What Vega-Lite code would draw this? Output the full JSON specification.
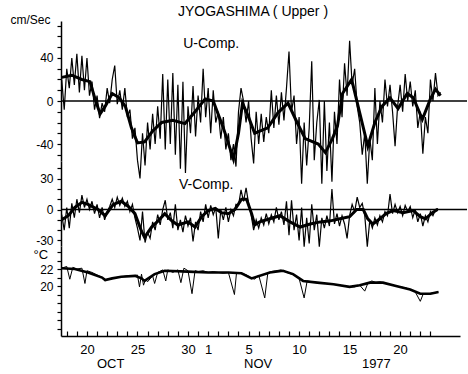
{
  "$schema": "https://vega.github.io/schema/vega-lite/v6.json",
  "background": "white",
  "padding": {"left": 10, "top": 5, "right": 0, "bottom": 3},
  "spacing": 0,
  "bounds": "flush",
  "resolve": {"scale": {"x": "independent"}},
  "config": {
    "view": {"stroke": null},
    "font": "Liberation Sans",
    "axis": {"grid": false, "domainColor": "black", "domainWidth": 1.5, "tickColor": "black", "tickWidth": 1.2, "labelColor": "black", "labelFont": "Liberation Sans", "labelFontSize": 12, "titleColor": "black", "titleFont": "Liberation Sans", "titleFontWeight": "normal", "labelOverlap": false, "labelFlush": false, "labelBound": false}
  },
  "datasets": {
    "U_raw": [
      {"d":17.5,"v":20},{"d":17.75,"v":-8},{"d":18,"v":30},{"d":18.25,"v":12},{"d":18.5,"v":40},{"d":18.75,"v":15},{"d":19,"v":44},{"d":19.25,"v":8},{"d":19.5,"v":42},{"d":19.75,"v":10},
      {"d":20,"v":40},{"d":20.25,"v":5},{"d":20.5,"v":18},{"d":20.75,"v":-8},{"d":21,"v":5},{"d":21.25,"v":-16},{"d":21.5,"v":-2},{"d":21.75,"v":-10},{"d":22,"v":12},{"d":22.25,"v":-2},
      {"d":22.5,"v":20},{"d":22.75,"v":33},{"d":23,"v":-3},{"d":23.25,"v":10},{"d":23.5,"v":-8},{"d":23.75,"v":12},{"d":24,"v":-15},{"d":24.25,"v":-8},{"d":24.5,"v":-35},{"d":24.75,"v":-25},
      {"d":25,"v":-55},{"d":25.25,"v":-72},{"d":25.5,"v":-30},{"d":25.75,"v":-60},{"d":26,"v":-20},{"d":26.25,"v":-45},{"d":26.5,"v":-12},{"d":26.75,"v":-40},{"d":27,"v":-5},{"d":27.25,"v":-35},
      {"d":27.5,"v":25},{"d":27.75,"v":-45},{"d":28,"v":20},{"d":28.25,"v":-40},{"d":28.5,"v":26},{"d":28.75,"v":-50},{"d":29,"v":15},{"d":29.25,"v":-63},{"d":29.5,"v":18},{"d":29.75,"v":-67},
      {"d":30,"v":-5},{"d":30.25,"v":-30},{"d":30.5,"v":14},{"d":30.75,"v":-33},{"d":31,"v":5},{"d":31.25,"v":-20},{"d":31.5,"v":30},{"d":31.75,"v":-15},{"d":32,"v":12},{"d":32.25,"v":-30},
      {"d":32.5,"v":10},{"d":32.75,"v":-20},{"d":33,"v":-10},{"d":33.25,"v":-35},{"d":33.5,"v":-15},{"d":33.75,"v":-45},{"d":34,"v":-30},{"d":34.25,"v":-55},{"d":34.5,"v":-40},{"d":34.75,"v":-61},
      {"d":35,"v":-10},{"d":35.25,"v":12},{"d":35.5,"v":0},{"d":35.75,"v":-20},{"d":36,"v":0},{"d":36.25,"v":-35},{"d":36.5,"v":-58},{"d":36.75,"v":-10},{"d":37,"v":-40},{"d":37.25,"v":-12},
      {"d":37.5,"v":-38},{"d":37.75,"v":-15},{"d":38,"v":-30},{"d":38.25,"v":10},{"d":38.5,"v":-25},{"d":38.75,"v":5},{"d":39,"v":-22},{"d":39.25,"v":8},{"d":39.5,"v":-18},{"d":39.75,"v":12},
      {"d":40,"v":46},{"d":40.25,"v":-10},{"d":40.5,"v":5},{"d":40.75,"v":-40},{"d":41,"v":-15},{"d":41.25,"v":-77},{"d":41.5,"v":-20},{"d":41.75,"v":-60},{"d":42,"v":-25},{"d":42.25,"v":37},
      {"d":42.5,"v":-55},{"d":42.75,"v":-20},{"d":43,"v":1},{"d":43.25,"v":-77},{"d":43.5,"v":0},{"d":43.75,"v":-65},{"d":44,"v":-20},{"d":44.25,"v":-75},{"d":44.5,"v":-10},{"d":44.75,"v":-40},
      {"d":45,"v":20},{"d":45.25,"v":-15},{"d":45.5,"v":35},{"d":45.75,"v":5},{"d":46,"v":56},{"d":46.25,"v":15},{"d":46.5,"v":30},{"d":46.75,"v":-5},{"d":47,"v":-20},{"d":47.25,"v":-50},
      {"d":47.5,"v":-30},{"d":47.75,"v":-77},{"d":48,"v":-35},{"d":48.25,"v":-55},{"d":48.5,"v":12},{"d":48.75,"v":-40},{"d":49,"v":0},{"d":49.25,"v":-20},{"d":49.5,"v":20},{"d":49.75,"v":-5},
      {"d":50,"v":15},{"d":50.25,"v":-10},{"d":50.5,"v":-42},{"d":50.75,"v":-5},{"d":51,"v":15},{"d":51.25,"v":-10},{"d":51.5,"v":25},{"d":51.75,"v":0},{"d":52,"v":18},{"d":52.25,"v":-5},
      {"d":52.5,"v":10},{"d":52.75,"v":-25},{"d":53,"v":-10},{"d":53.25,"v":-49},{"d":53.5,"v":-15},{"d":53.75,"v":-30},{"d":54,"v":20},{"d":54.25,"v":0},{"d":54.5,"v":26},{"d":54.75,"v":5},{"d":55,"v":8}
    ],
    "U_smooth": [
      {"d":17.5,"v":22},{"d":18.5,"v":24},{"d":19.5,"v":20},{"d":20.3,"v":18},{"d":20.8,"v":2},{"d":21.3,"v":-12},{"d":21.8,"v":-5},{"d":22.5,"v":7},{"d":23.2,"v":3},{"d":23.8,"v":-5},
      {"d":24.4,"v":-25},{"d":25,"v":-39},{"d":25.7,"v":-38},{"d":26.5,"v":-28},{"d":27.4,"v":-20},{"d":28.5,"v":-18},{"d":29.7,"v":-21},{"d":30.7,"v":-10},{"d":31.7,"v":2},{"d":32.5,"v":0},
      {"d":33.5,"v":-25},{"d":34.5,"v":-54},{"d":35,"v":-30},{"d":35.4,"v":-2},{"d":36,"v":-15},{"d":36.6,"v":-30},{"d":37.9,"v":-25},{"d":38.9,"v":-11},{"d":39.9,"v":-2},{"d":40.8,"v":-20},
      {"d":41.6,"v":-35},{"d":42.9,"v":-40},{"d":43.6,"v":-48},{"d":44.3,"v":-35},{"d":44.8,"v":-23},{"d":45.3,"v":7},{"d":46.2,"v":20},{"d":47,"v":-11},{"d":47.8,"v":-42},{"d":48.5,"v":-20},
      {"d":49.2,"v":-5},{"d":50,"v":3},{"d":50.8,"v":-7},{"d":51.7,"v":7},{"d":52.3,"v":3},{"d":53.2,"v":-17},{"d":54,"v":2},{"d":54.5,"v":11},{"d":55,"v":5}
    ],
    "V_raw": [
      {"d":17.5,"v":-5},{"d":17.75,"v":-20},{"d":18,"v":2},{"d":18.25,"v":-18},{"d":18.5,"v":6},{"d":18.75,"v":-8},{"d":19,"v":10},{"d":19.25,"v":-3},{"d":19.5,"v":14},{"d":19.75,"v":2},
      {"d":20,"v":10},{"d":20.25,"v":0},{"d":20.5,"v":8},{"d":20.75,"v":-4},{"d":21,"v":5},{"d":21.25,"v":-8},{"d":21.5,"v":2},{"d":21.75,"v":-10},{"d":22,"v":-2},{"d":22.25,"v":3},
      {"d":22.5,"v":10},{"d":22.75,"v":2},{"d":23,"v":12},{"d":23.25,"v":4},{"d":23.5,"v":11},{"d":23.75,"v":3},{"d":24,"v":8},{"d":24.25,"v":-2},{"d":24.5,"v":5},{"d":24.75,"v":-8},
      {"d":25,"v":-18},{"d":25.25,"v":-30},{"d":25.5,"v":-2},{"d":25.75,"v":-32},{"d":26,"v":-22},{"d":26.25,"v":-28},{"d":26.5,"v":-12},{"d":26.75,"v":-20},{"d":27,"v":-5},{"d":27.25,"v":-15},
      {"d":27.5,"v":0},{"d":27.75,"v":9},{"d":28,"v":-10},{"d":28.25,"v":-3},{"d":28.5,"v":-18},{"d":28.75,"v":5},{"d":29,"v":-20},{"d":29.25,"v":-10},{"d":29.5,"v":-22},{"d":29.75,"v":-6},
      {"d":30,"v":-16},{"d":30.25,"v":-8},{"d":30.5,"v":-31},{"d":30.75,"v":-12},{"d":31,"v":-20},{"d":31.25,"v":-2},{"d":31.5,"v":-12},{"d":31.75,"v":5},{"d":32,"v":-8},{"d":32.25,"v":4},
      {"d":32.5,"v":-5},{"d":32.75,"v":2},{"d":33,"v":-28},{"d":33.25,"v":0},{"d":33.5,"v":-10},{"d":33.75,"v":2},{"d":34,"v":-12},{"d":34.25,"v":0},{"d":34.5,"v":-6},{"d":34.75,"v":5},
      {"d":35,"v":4},{"d":35.25,"v":19},{"d":35.5,"v":8},{"d":35.75,"v":21},{"d":36,"v":6},{"d":36.25,"v":-5},{"d":36.5,"v":-20},{"d":36.75,"v":-10},{"d":37,"v":-18},{"d":37.25,"v":-8},
      {"d":37.5,"v":-15},{"d":37.75,"v":-4},{"d":38,"v":-14},{"d":38.25,"v":-5},{"d":38.5,"v":-12},{"d":38.75,"v":2},{"d":39,"v":-10},{"d":39.25,"v":-2},{"d":39.5,"v":-15},{"d":39.75,"v":8},
      {"d":40,"v":-25},{"d":40.25,"v":9},{"d":40.5,"v":-20},{"d":40.75,"v":-5},{"d":41,"v":-30},{"d":41.25,"v":2},{"d":41.5,"v":-36},{"d":41.75,"v":-8},{"d":42,"v":-33},{"d":42.25,"v":5},
      {"d":42.5,"v":-20},{"d":42.75,"v":-5},{"d":43,"v":-36},{"d":43.25,"v":-8},{"d":43.5,"v":-18},{"d":43.75,"v":-6},{"d":44,"v":-16},{"d":44.25,"v":20},{"d":44.5,"v":-14},{"d":44.75,"v":-4},
      {"d":45,"v":-16},{"d":45.25,"v":-6},{"d":45.5,"v":-14},{"d":45.75,"v":-28},{"d":46,"v":-6},{"d":46.25,"v":5},{"d":46.5,"v":-2},{"d":46.75,"v":12},{"d":47,"v":2},{"d":47.25,"v":6},
      {"d":47.5,"v":-6},{"d":47.75,"v":-36},{"d":48,"v":-10},{"d":48.25,"v":-18},{"d":48.5,"v":-8},{"d":48.75,"v":-15},{"d":49,"v":-6},{"d":49.25,"v":-12},{"d":49.5,"v":-2},{"d":49.75,"v":-6},
      {"d":50,"v":15},{"d":50.25,"v":-4},{"d":50.5,"v":5},{"d":50.75,"v":-3},{"d":51,"v":3},{"d":51.25,"v":-6},{"d":51.5,"v":4},{"d":51.75,"v":-2},{"d":52,"v":3},{"d":52.25,"v":-8},
      {"d":52.5,"v":0},{"d":52.75,"v":-12},{"d":53,"v":-4},{"d":53.25,"v":-16},{"d":53.5,"v":-6},{"d":53.75,"v":-12},{"d":54,"v":-2},{"d":54.25,"v":-6},{"d":54.5,"v":0},{"d":54.75,"v":1}
    ],
    "V_smooth": [
      {"d":17.5,"v":-10},{"d":18.15,"v":-6},{"d":18.8,"v":2},{"d":19.5,"v":7},{"d":20.1,"v":5},{"d":21.1,"v":0},{"d":21.8,"v":-6},{"d":22.6,"v":5},{"d":23.4,"v":8},{"d":24.1,"v":3},
      {"d":24.75,"v":-4},{"d":25.4,"v":-21},{"d":25.7,"v":-27},{"d":26.4,"v":-17},{"d":27.05,"v":-11},{"d":27.7,"v":-4},{"d":28.4,"v":-11},{"d":29,"v":-15},{"d":30,"v":-12},{"d":30.7,"v":-17},
      {"d":31.35,"v":-7},{"d":32,"v":-1},{"d":32.7,"v":1},{"d":33.3,"v":-3},{"d":34,"v":-4},{"d":34.65,"v":0},{"d":35.3,"v":10},{"d":35.8,"v":10},{"d":36.3,"v":-4},{"d":36.6,"v":-15},
      {"d":37.1,"v":-12},{"d":38.1,"v":-9},{"d":39.1,"v":-6},{"d":40.1,"v":-12},{"d":41.1,"v":-17},{"d":42.1,"v":-14},{"d":43.1,"v":-12},{"d":44.1,"v":-11},{"d":45.05,"v":-9},{"d":46,"v":-7},
      {"d":46.7,"v":0},{"d":47.35,"v":0},{"d":47.8,"v":-9},{"d":48.3,"v":-14},{"d":49,"v":-9},{"d":49.6,"v":-4},{"d":50.3,"v":-1},{"d":51.3,"v":-3},{"d":52.3,"v":-1},{"d":53,"v":-7},
      {"d":53.5,"v":-9},{"d":54.2,"v":-3},{"d":54.7,"v":0}
    ],
    "T_raw": [
      {"d":17.5,"v":22.1},{"d":18,"v":22.3},{"d":18.3,"v":20.8},{"d":18.6,"v":22.2},{"d":19,"v":22},{"d":19.5,"v":22.1},{"d":19.8,"v":20.3},{"d":20,"v":21.8},{"d":20.5,"v":21.6},{"d":21,"v":21.3},
      {"d":21.5,"v":21},{"d":21.8,"v":20.6},{"d":22,"v":20.8},{"d":22.5,"v":20.9},{"d":23,"v":21},{"d":23.5,"v":21.1},{"d":24,"v":21.2},{"d":24.5,"v":21.2},{"d":25,"v":21.3},{"d":25.2,"v":19.9},
      {"d":25.4,"v":21.4},{"d":25.6,"v":20.1},{"d":25.8,"v":20.8},{"d":26,"v":20.5},{"d":26.5,"v":21.2},{"d":26.7,"v":20.3},{"d":27,"v":21.6},{"d":27.5,"v":21.9},{"d":27.8,"v":20.6},{"d":28,"v":21.9},
      {"d":28.5,"v":21.6},{"d":29,"v":21.9},{"d":29.3,"v":20.4},{"d":29.6,"v":22.1},{"d":30,"v":21.8},{"d":30.4,"v":19.1},{"d":30.7,"v":21.8},{"d":31,"v":21.7},{"d":31.5,"v":21.8},{"d":32,"v":21.6},
      {"d":32.5,"v":21.7},{"d":33,"v":21.6},{"d":33.5,"v":21.5},{"d":34,"v":21.6},{"d":34.6,"v":19},{"d":34.8,"v":21.5},{"d":35.3,"v":21.5},{"d":35.8,"v":21.3},{"d":36.2,"v":21},{"d":36.6,"v":20.8},
      {"d":37,"v":21.3},{"d":37.6,"v":18.6},{"d":37.9,"v":21.5},{"d":38.2,"v":21.7},{"d":38.7,"v":21.8},{"d":39.2,"v":21.9},{"d":39.6,"v":21.7},{"d":40,"v":21.5},{"d":40.5,"v":21.3},{"d":41,"v":20.9},
      {"d":41.5,"v":18.6},{"d":41.8,"v":20.6},{"d":42.3,"v":20.5},{"d":42.8,"v":20.4},{"d":43.3,"v":20.3},{"d":43.8,"v":20.3},{"d":44.4,"v":20.2},{"d":45,"v":20.1},{"d":45.5,"v":20},{"d":46,"v":19.9},
      {"d":46.5,"v":19.9},{"d":47,"v":20.1},{"d":47.5,"v":19.4},{"d":47.8,"v":20.3},{"d":48.2,"v":20.6},{"d":48.6,"v":20.4},{"d":49,"v":20.5},{"d":49.5,"v":20.3},{"d":50,"v":20.2},{"d":50.6,"v":20},
      {"d":51,"v":19.9},{"d":51.5,"v":19.8},{"d":52,"v":19.6},{"d":52.5,"v":19.3},{"d":53,"v":18.2},{"d":53.3,"v":19.1},{"d":53.8,"v":19.1},{"d":54.3,"v":19.2},{"d":54.8,"v":19.3}
    ],
    "T_smooth": [
      {"d":17.5,"v":22.1},{"d":18.8,"v":22},{"d":20.1,"v":21.6},{"d":21.5,"v":21},{"d":21.8,"v":20.7},{"d":22.5,"v":20.9},{"d":23.4,"v":21.1},{"d":24.75,"v":21.2},{"d":25.4,"v":20.9},{"d":25.7,"v":20.6},
      {"d":26.7,"v":21.4},{"d":27.7,"v":21.8},{"d":30,"v":21.7},{"d":32,"v":21.6},{"d":34,"v":21.6},{"d":35.3,"v":21.5},{"d":36.3,"v":20.9},{"d":38.1,"v":21.6},{"d":39.4,"v":21.8},{"d":40.4,"v":21.4},
      {"d":41.4,"v":20.6},{"d":42.8,"v":20.4},{"d":44.4,"v":20.2},{"d":46,"v":19.9},{"d":47,"v":20.1},{"d":48,"v":20.4},{"d":49.3,"v":20.4},{"d":50.6,"v":20},{"d":52,"v":19.6},{"d":53,"v":19.1},
      {"d":54,"v":19.1},{"d":54.8,"v":19.3}
    ],
    "U_label": [{"d":32.3,"v":53,"label":"U-Comp."}],
    "V_label": [{"d":31.8,"v":24,"label":"V-Comp."}]
  },
  "vconcat": [
    {
      "width": 406,
      "height": 140,
      "title": {"text": "JYOGASHIMA ( Upper )", "fontSize": 14, "fontWeight": "normal", "font": "Liberation Sans", "color": "black", "anchor": "middle", "frame": "group", "offset": -6, "dx": -11},
      "resolve": {"axis": {"y": "independent"}},
      "layer": [
        {
          "data": {"name": "U_raw"},
          "mark": {"type": "line", "color": "black", "strokeWidth": 1.2},
          "encoding": {
            "x": {"field": "d", "type": "quantitative", "scale": {"domain": [17.43, 57.62], "nice": false, "zero": false}, "axis": null},
            "y": {"field": "v", "type": "quantitative", "scale": {"domain": [-55.8, 74.4], "nice": false, "zero": false},
              "axis": {"values": [-50, -40, -30, -20, -10, 0, 10, 20, 30, 40, 50, 60, 70], "labelExpr": "datum.value == 40 ? '40' : datum.value == 0 ? '0' : datum.value == -40 ? '-40' : ''", "labelOverlap": false, "tickSize": 4, "labelPadding": 4,
                "title": "cm/Sec", "titleAngle": 0, "titleAlign": "left", "titleBaseline": "alphabetic", "titleX": -51, "titleY": 2, "titleFontSize": 12}}
          }
        },
        {
          "data": {"name": "U_smooth"},
          "mark": {"type": "line", "color": "black", "strokeWidth": 3},
          "encoding": {
            "x": {"field": "d", "type": "quantitative", "axis": null},
            "y": {"field": "v", "type": "quantitative", "axis": null}
          }
        },
        {
          "data": {"values": [{}]},
          "mark": {"type": "rule", "color": "black", "strokeWidth": 1.4},
          "encoding": {"y": {"datum": 0, "type": "quantitative", "axis": null}}
        },
        {
          "data": {"name": "U_label"},
          "mark": {"type": "text", "fontSize": 14, "font": "Liberation Sans", "color": "black"},
          "encoding": {
            "x": {"field": "d", "type": "quantitative", "axis": null},
            "y": {"field": "v", "type": "quantitative", "axis": null},
            "text": {"field": "label"}
          }
        }
      ]
    },
    {
      "width": 406,
      "height": 85,
      "resolve": {"axis": {"y": "independent"}},
      "layer": [
        {
          "data": {"name": "V_raw"},
          "mark": {"type": "line", "color": "black", "strokeWidth": 1.2},
          "encoding": {
            "x": {"field": "d", "type": "quantitative", "scale": {"domain": [17.43, 57.62], "nice": false, "zero": false}, "axis": null},
            "y": {"field": "v", "type": "quantitative", "scale": {"domain": [-35.4, 47.1], "nice": false, "zero": false},
              "axis": {"values": [-30, -20, -10, 0, 10, 20, 30, 40], "labelExpr": "datum.value == 30 ? '30' : datum.value == 0 ? '0' : datum.value == -30 ? '-30' : ''", "labelOverlap": false, "tickSize": 4, "labelPadding": 4, "title": null}}
          }
        },
        {
          "data": {"name": "V_smooth"},
          "mark": {"type": "line", "color": "black", "strokeWidth": 3},
          "encoding": {
            "x": {"field": "d", "type": "quantitative", "axis": null},
            "y": {"field": "v", "type": "quantitative", "axis": null}
          }
        },
        {
          "data": {"values": [{}]},
          "mark": {"type": "rule", "color": "black", "strokeWidth": 1.4},
          "encoding": {"y": {"datum": 0, "type": "quantitative", "axis": null}}
        },
        {
          "data": {"name": "V_label"},
          "mark": {"type": "text", "fontSize": 14, "font": "Liberation Sans", "color": "black"},
          "encoding": {
            "x": {"field": "d", "type": "quantitative", "axis": null},
            "y": {"field": "v", "type": "quantitative", "axis": null},
            "text": {"field": "label"}
          }
        }
      ]
    },
    {
      "width": 399,
      "height": 90,
      "resolve": {"axis": {"x": "independent", "y": "independent"}},
      "layer": [
        {
          "data": {"name": "T_raw"},
          "mark": {"type": "line", "color": "black", "strokeWidth": 1},
          "encoding": {
            "x": {"field": "d", "type": "quantitative", "scale": {"domain": [17.43, 56.93], "nice": false, "zero": false},
              "axis": {"orient": "bottom", "domain": true, "values": [18,19,20,21,22,23,24,25,26,27,28,29,30,31,32,33,34,35,36,37,38,39,40,41,42,43,44,45,46,47,48,49,50,51,52,53,54],
                "labelExpr": "datum.value==20?'20':datum.value==25?'25':datum.value==30?'30':datum.value==32?'1':datum.value==36?'5':datum.value==41?'10':datum.value==46?'15':datum.value==51?'20':''",
                "labelOverlap": false, "tickSize": -5, "labelPadding": 12, "title": null, "labelFontSize": 13}},
            "y": {"field": "v", "type": "quantitative", "scale": {"domain": [14.12, 24.71], "nice": false, "zero": false},
              "axis": {"values": [15, 16, 17, 18, 19, 20, 21, 22, 23, 24], "labelExpr": "datum.value == 22 ? '22' : datum.value == 20 ? '20' : ''", "labelOverlap": false, "tickSize": 4, "labelPadding": 4,
                "title": "°C", "titleAngle": 0, "titleAlign": "left", "titleBaseline": "alphabetic", "titleX": -28, "titleY": 12, "titleFontSize": 13}}
          }
        },
        {
          "data": {"name": "T_smooth"},
          "mark": {"type": "line", "color": "black", "strokeWidth": 2.6},
          "encoding": {
            "x": {"field": "d", "type": "quantitative",
              "axis": {"orient": "bottom", "values": [22.3, 36.9, 48.6], "labelExpr": "datum.value < 30 ? 'OCT' : datum.value < 40 ? 'NOV' : '1977'", "labelOverlap": false, "tickSize": 0, "domain": false, "labelPadding": 21, "title": null, "labelFontSize": 13}},
            "y": {"field": "v", "type": "quantitative", "axis": null}
          }
        }
      ]
    }
  ]
}
